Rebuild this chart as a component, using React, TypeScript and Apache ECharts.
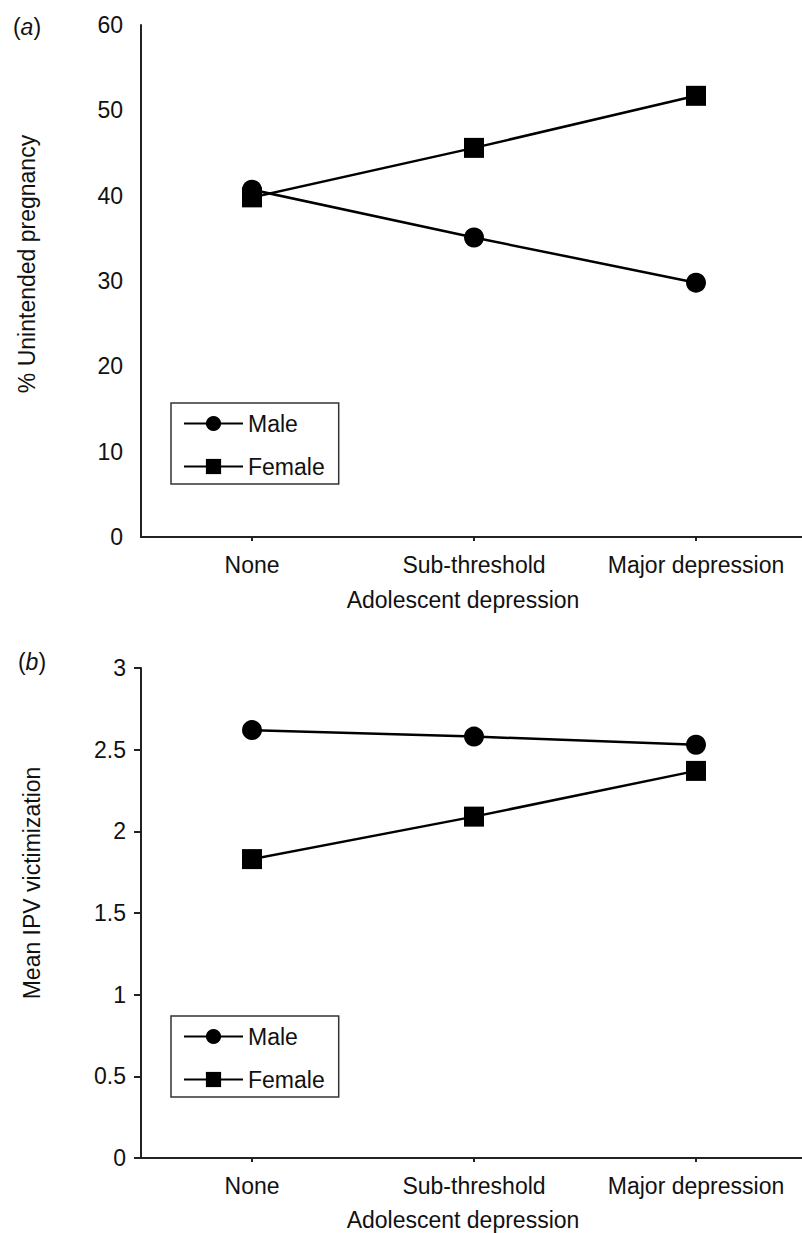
import React, { useEffect, useRef } from "react";
import * as echarts from "echarts";

const categories = ["None", "Sub-threshold", "Major depression"];
const pregnancyMale = [40.7, 35.1, 29.8];
const pregnancyFemale = [39.8, 45.6, 51.7];
const ipvMale = [2.62, 2.58, 2.53];
const ipvFemale = [1.83, 2.09, 2.37];
const pregnancyTicks = { min: 0, max: 60, interval: 10 };
const ipvTicks = { min: 0, max: 3, interval: 0.5 };
const seriesNames = ["Male", "Female"];

const FONT = "'Liberation Sans', Arial, sans-serif";
const TXT = "#111";
const FS = 23;

export default function App() {
  const ref = useRef<HTMLDivElement>(null);
  useEffect(() => {
    if (!ref.current) return;
    const chart = echarts.init(ref.current, null, { renderer: "svg" });
    const axisLine = { show: true, lineStyle: { color: "#222", width: 2 } };
    const xAxisBase = (gridIndex: number) => ({
      type: "category",
      gridIndex,
      data: categories,
      boundaryGap: true,
      axisLine,
      axisTick: { show: true, alignWithLabel: true, length: 4, lineStyle: { color: "#222", width: 2 } },
      axisLabel: { color: TXT, fontSize: FS, fontFamily: FONT, margin: 16, interval: 0, hideOverlap: false },
      splitLine: { show: false },
    });
    const lineSeries = (name: string, symbol: string, data: number[], idx: number) => ({
      name,
      type: "line",
      xAxisIndex: idx,
      yAxisIndex: idx,
      data,
      symbol,
      symbolSize: 20,
      showSymbol: true,
      color: "#000",
      itemStyle: { color: "#000" },
      lineStyle: { color: "#000", width: 2.5 },
      emphasis: { disabled: true },
    });
    const legendBase = (top: number) => ({
      orient: "vertical",
      left: 171,
      top,
      data: seriesNames,
      itemWidth: 59,
      itemHeight: 19,
      itemGap: 20,
      padding: [9, 14, 6, 12],
      borderColor: "#333",
      borderWidth: 1.5,
      textStyle: { color: TXT, fontSize: FS, fontFamily: FONT, padding: [0, 0, 0, 0] },
      selectedMode: false,
    });
    const textEl = (text: string, x: number, y: number, rotation = 0, extra: any = {}) => ({
      type: "text",
      x,
      y,
      rotation,
      style: {
        text,
        fill: TXT,
        fontSize: FS,
        fontFamily: FONT,
        align: "center",
        verticalAlign: "middle",
        ...extra,
      },
    });
    chart.setOption({
      animation: false,
      backgroundColor: "#fff",
      grid: [
        { left: 141, top: 25, width: 666, height: 512, outerBoundsMode: "none", containLabel: false },
        { left: 141, top: 668, width: 666, height: 490, outerBoundsMode: "none", containLabel: false },
      ],
      xAxis: [xAxisBase(0), xAxisBase(1)],
      yAxis: [
        {
          type: "value",
          gridIndex: 0,
          ...pregnancyTicks,
          axisLine,
          axisTick: { show: false },
          axisLabel: { color: TXT, fontSize: FS, fontFamily: FONT, margin: 18 },
          splitLine: { show: false },
        },
        {
          type: "value",
          gridIndex: 1,
          ...ipvTicks,
          axisLine,
          axisTick: { show: true, inside: false, length: 7, lineStyle: { color: "#222", width: 2 } },
          axisLabel: { color: TXT, fontSize: FS, fontFamily: FONT, margin: 15 },
          splitLine: { show: false },
        },
      ],
      legend: [legendBase(403), legendBase(1016)],
      series: [
        lineSeries("Male", "circle", pregnancyMale, 0),
        lineSeries("Female", "rect", pregnancyFemale, 0),
        lineSeries("Male", "circle", ipvMale, 1),
        lineSeries("Female", "rect", ipvFemale, 1),
      ],
      graphic: [
        textEl("({i|a})", 27, 27, 0, { rich: { i: { fontStyle: "italic", fontSize: FS, fontFamily: FONT, fill: TXT } } }),
        textEl("({i|b})", 32, 662, 0, { rich: { i: { fontStyle: "italic", fontSize: FS, fontFamily: FONT, fill: TXT } } }),
        textEl("% Unintended pregnancy", 27, 264, Math.PI / 2),
        textEl("Mean IPV victimization", 32, 883, Math.PI / 2),
        textEl("Adolescent depression", 463, 600),
        textEl("Adolescent depression", 463, 1220),
      ],
    });
    return () => chart.dispose();
  }, []);
  return (
    <div
      ref={ref}
      style={{ position: "absolute", left: 0, top: 0, width: 802, height: 1233, background: "#fff" }}
    />
  );
}
